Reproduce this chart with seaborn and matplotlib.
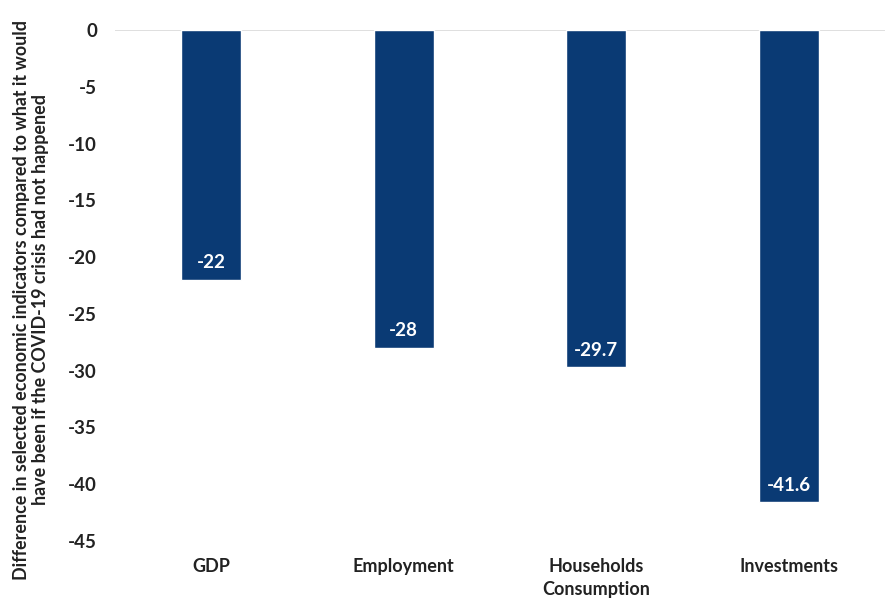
import matplotlib
matplotlib.use("Agg")
import matplotlib.pyplot as plt
import seaborn as sns
import pandas as pd

categories = ["GDP", "Employment", "Households\nConsumption", "Investments"]
values = [-22, -28, -29.7, -41.6]
value_labels = ["-22", "-28", "-29.7", "-41.6"]
yticks = [0, -5, -10, -15, -20, -25, -30, -35, -40, -45]
ylabel = ("Difference in selected economic indicators compared to what it would\n"
          "have been if the COVID-19 crisis had not happened")

sns.set_theme(style="white")
plt.rcParams["font.family"] = ["Lato", "DejaVu Sans"]

df = pd.DataFrame({"cat": categories, "val": values})

fig = plt.figure(figsize=(8.85, 6.02), dpi=100)
ax = fig.add_axes([0.130, 0.1013, 0.870, 0.8487])
sns.barplot(data=df, x="cat", y="val", color="#0A3A74", width=0.31,
            saturation=1, ax=ax, zorder=2)
ax.set_ylim(-45, 0)
ax.set_yticks(yticks)
ax.set_yticklabels([str(t) for t in yticks], fontsize=13.5, fontweight="bold", color="#222222")
ax.set_xticks(range(len(categories)))
ax.set_xticklabels(categories, fontsize=13, fontweight="bold", color="#222222",
                   linespacing=1.45)
for s in ax.spines.values():
    s.set_visible(False)
ax.axhline(0, color="#d9d9d9", lw=1.2, zorder=1)
ax.tick_params(axis="y", length=0, pad=13)
ax.tick_params(axis="x", length=0, pad=12)
ax.set_xlabel("")
ax.set_ylabel("")
fig.text(31 / 885, 1 - 300 / 602, ylabel, rotation=90, ha="center", va="center",
         multialignment="center", fontsize=12.9, fontweight="bold", color="#222222",
         linespacing=1.15)

for i, (v, lab) in enumerate(zip(values, value_labels)):
    ax.text(i, v + 1.5, lab, ha="center", va="center", color="white",
            fontsize=13.5, fontweight="bold", zorder=3)

fig.savefig("out.png", dpi=100)
